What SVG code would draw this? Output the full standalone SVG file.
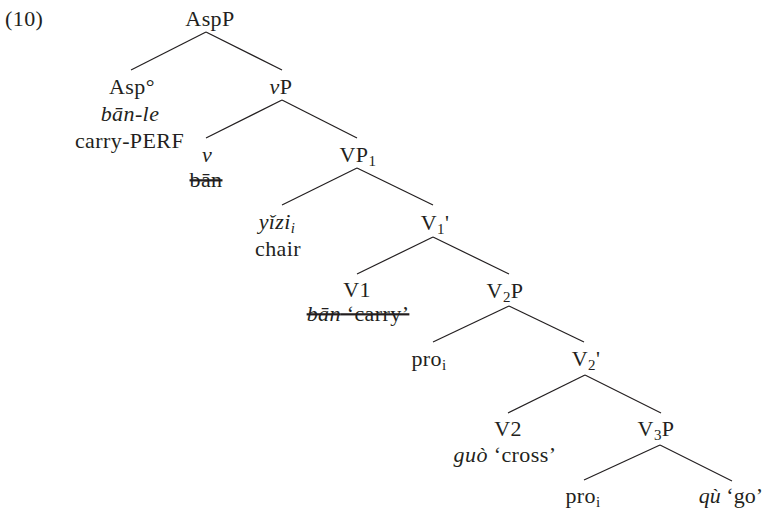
<svg xmlns="http://www.w3.org/2000/svg" width="765" height="511" viewBox="0 0 765 511">
<style>
text{font-family:"Liberation Serif","Times New Roman",serif;font-size:22px;letter-spacing:0.4px;fill:#231f20;text-anchor:middle}
.i{font-style:italic}
.s{font-size:15px}
.st{text-decoration:line-through}
#edges line{stroke:#231f20;stroke-width:1.2}
</style>
<rect width="765" height="511" fill="#fff"/>
<text x="5" y="26" style="text-anchor:start">(10)</text>
<g id="edges">
<line x1="206" y1="32" x2="131" y2="70"/><line x1="206" y1="32" x2="282" y2="70"/>
<line x1="282" y1="100" x2="206" y2="138"/><line x1="282" y1="100" x2="357" y2="138"/>
<line x1="357" y1="168" x2="282" y2="205"/><line x1="357" y1="168" x2="433" y2="205"/>
<line x1="433" y1="237" x2="357" y2="274"/><line x1="433" y1="237" x2="509" y2="274"/>
<line x1="509" y1="306" x2="433" y2="342"/><line x1="509" y1="306" x2="584" y2="342"/>
<line x1="585" y1="375" x2="508" y2="413"/><line x1="585" y1="375" x2="661" y2="413"/>
<line x1="660" y1="445" x2="584" y2="480"/><line x1="660" y1="445" x2="732" y2="481"/>
</g>
<g id="AspP"><text x="210" y="26">AspP</text></g>
<g id="Asp0"><text x="132" y="94">Asp°</text><text x="130" y="120.5" class="i">bān-le</text><text x="129.5" y="148">carry-PERF</text></g>
<g id="vP"><text x="281" y="94"><tspan class="i">v</tspan>P</text></g>
<g id="v"><text x="207" y="162" class="i">v</text><text x="206" y="187" class="st">bān</text></g>
<g id="VP1"><text x="358" y="162">VP<tspan class="s" dy="4">1</tspan></text></g>
<g id="yizi"><text x="277" y="229" class="i">yǐzi<tspan class="s" dy="4">i</tspan></text><text x="278" y="256">chair</text></g>
<g id="V1bar"><text x="435" y="230">V<tspan class="s" dy="4">1</tspan><tspan dy="-4">'</tspan></text></g>
<g id="V1"><text x="357" y="297">V1</text><text x="358" y="321" class="st"><tspan class="i">bān</tspan> ‘carry’</text></g>
<g id="V2P"><text x="505" y="298">V<tspan class="s" dy="4">2</tspan><tspan dy="-4">P</tspan></text></g>
<g id="pro1"><text x="429" y="366">pro<tspan class="s" dy="4">i</tspan></text></g>
<g id="V2bar"><text x="586" y="366">V<tspan class="s" dy="4">2</tspan><tspan dy="-4">'</tspan></text></g>
<g id="V2"><text x="508" y="436">V2</text><text x="505" y="462"><tspan class="i">guò</tspan> ‘cross’</text></g>
<g id="V3P"><text x="656" y="436">V<tspan class="s" dy="4">3</tspan><tspan dy="-4">P</tspan></text></g>
<g id="pro2"><text x="583" y="503">pro<tspan class="s" dy="4">i</tspan></text></g>
<g id="qu"><text x="763" y="503" style="text-anchor:end;letter-spacing:0"><tspan class="i">qù</tspan> ‘go’</text></g>
</svg>
